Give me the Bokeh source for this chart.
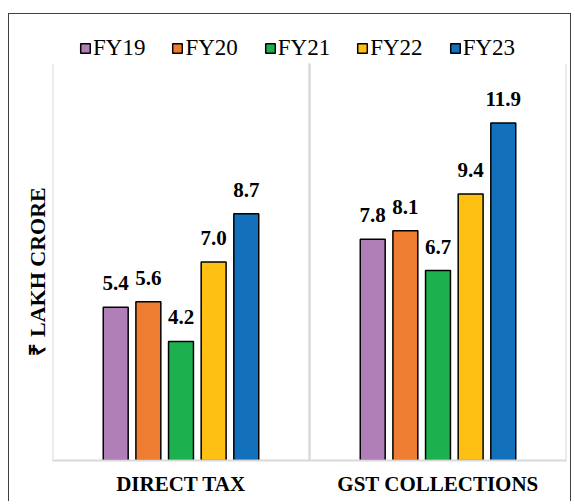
from bokeh.plotting import figure
from bokeh.models import FactorRange, Range1d, Legend, LegendItem, ColumnDataSource, Title
from bokeh.transform import dodge
from bokeh.core.properties import value
from bokeh.embed import file_html
from bokeh.resources import INLINE

categories = ["DIRECT TAX", "GST COLLECTIONS"]
years = ["FY19", "FY20", "FY21", "FY22", "FY23"]
fy19 = [5.4, 7.8]
fy20 = [5.6, 8.1]
fy21 = [4.2, 6.7]
fy22 = [7.0, 9.4]
fy23 = [8.7, 11.9]
series = [fy19, fy20, fy21, fy22, fy23]
colors = ["#B07FB8", "#EE7D31", "#1DB04F", "#FDC013", "#1370BA"]
y_max = 14
y_title = "₹ LAKH CRORE"

FONT = "Liberation Serif"

FRAME_H = 430
AREA_H = 397
p = figure(x_range=FactorRange(*categories), y_range=Range1d(0, y_max * FRAME_H / AREA_H),
           width=563, height=488, output_backend="svg", toolbar_location=None,
           min_border_left=43, min_border_right=6, min_border_top=16, min_border_bottom=42)
p.styles = {"margin-top": "13px", "margin-left": "8px",
            "border": "1px solid #404040", "border-bottom": "none"}

sep = ColumnDataSource(dict(cat=categories, y0=[0] * len(categories), y1=[y_max] * len(categories)))
for edge in (-0.5, 0.5):
    p.segment(x0=dodge("cat", edge, range=p.x_range), y0="y0",
              x1=dodge("cat", edge, range=p.x_range), y1="y1", source=sep,
              line_color="#d9d9d9", line_width=2)

step = 0.127
bw = 0.097
items = []
for j, (yr, vals, col) in enumerate(zip(years, series, colors)):
    src = ColumnDataSource(dict(cat=categories, val=vals, lbl=[f"{v:.1f}" for v in vals]))
    off = (j - 2) * step
    r = p.vbar(x=dodge("cat", off, range=p.x_range), top="val", width=bw, source=src,
               fill_color=col, line_color="black", line_width=1.5)
    p.text(x=dodge("cat", off, range=p.x_range), y="val", text="lbl", source=src,
           text_align="center", text_baseline="bottom", y_offset=-17,
           text_font=value(FONT), text_font_style="bold", text_font_size="21px",
           text_color="black")
    items.append(LegendItem(label=yr, renderers=[r]))

legend = Legend(items=items, orientation="horizontal", location=(27, 399),
                border_line_color=None, background_fill_alpha=0,
                label_text_font=FONT, label_text_font_size="23px",
                label_text_color="black",
                glyph_width=12, glyph_height=12, label_standoff=2, spacing=26,
                padding=0, margin=0)
p.add_layout(legend)

p.xgrid.visible = False
p.ygrid.visible = False
p.outline_line_color = None

p.xaxis.axis_line_color = "#d9d9d9"
p.xaxis.axis_line_width = 2
p.xaxis.major_tick_line_color = None
p.xaxis.minor_tick_line_color = None
p.xaxis.major_tick_out = 0
p.xaxis.major_tick_in = 0
p.xaxis.major_label_text_font = FONT
p.xaxis.major_label_text_font_style = "bold"
p.xaxis.major_label_text_font_size = "21px"
p.xaxis.major_label_text_color = "black"
p.xaxis.major_label_standoff = 11

p.yaxis.visible = False
ytitle = Title(text=y_title, align="left", offset=105,
               text_font=FONT, text_font_style="bold", text_font_size="22px",
               text_color="black", standoff=6)
p.add_layout(ytitle, "left")

open("out.html", "w").write(file_html(p, INLINE))
